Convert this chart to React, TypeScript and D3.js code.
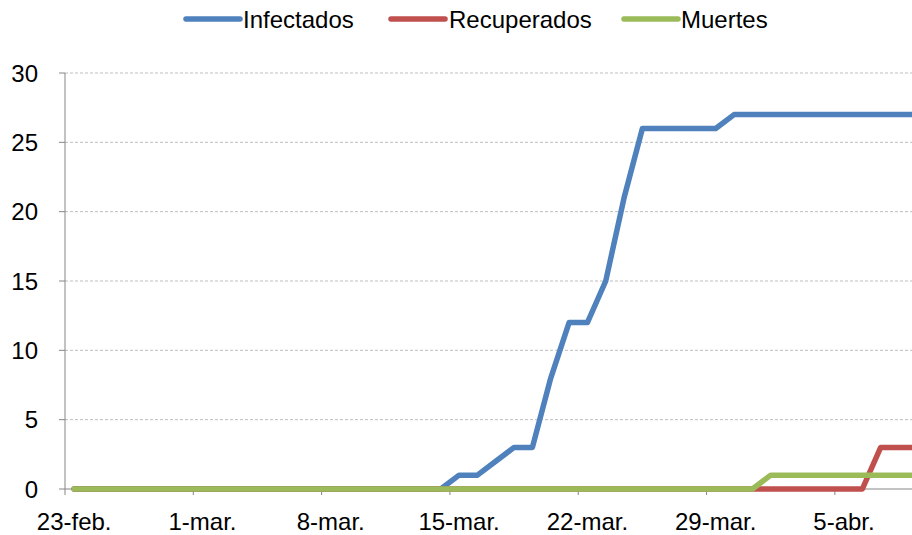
import React from 'react';
import * as d3 from 'd3';

// one value per day, starting 23-feb.
const infectados = [
  0, 0, 0, 0, 0, 0, 0, 0, 0, 0, 0, 0, 0, 0, 0, 0, 0, 0, 0, 0, 0,
  1, 1, 2, 3, 3, 8, 12, 12, 15, 21, 26, 26, 26, 26, 26,
  27, 27, 27, 27, 27, 27, 27, 27, 27, 27, 27,
];
const recuperados = [
  0, 0, 0, 0, 0, 0, 0, 0, 0, 0, 0, 0, 0, 0, 0, 0, 0, 0, 0, 0, 0, 0,
  0, 0, 0, 0, 0, 0, 0, 0, 0, 0, 0, 0, 0, 0, 0, 0, 0, 0, 0, 0, 0, 0,
  3, 3, 3,
];
const muertes = [
  0, 0, 0, 0, 0, 0, 0, 0, 0, 0, 0, 0, 0, 0, 0, 0, 0, 0, 0, 0, 0, 0,
  0, 0, 0, 0, 0, 0, 0, 0, 0, 0, 0, 0, 0, 0, 0, 0,
  1, 1, 1, 1, 1, 1, 1, 1, 1,
];
const tickLabels = ['23-feb.', '1-mar.', '8-mar.', '15-mar.', '22-mar.', '29-mar.', '5-abr.'];
const yTicks = [0, 5, 10, 15, 20, 25, 30];

const series = [
  { name: 'Infectados', values: infectados, color: '#4F81BD' },
  { name: 'Recuperados', values: recuperados, color: '#C0504D' },
  { name: 'Muertes', values: muertes, color: '#9BBB59' },
];

const FONT = '"Liberation Sans Narrow", "Liberation Sans", sans-serif';

function App() {
  const width = 912;
  const height = 535;
  const left = 65;
  const top = 73;
  const bottom = 489;
  const nDays = 47;
  const dayW = 18.33;

  const x = d3.scaleLinear().domain([0, nDays]).range([left, left + nDays * dayW]);
  const y = d3.scaleLinear().domain([0, 30]).range([bottom, top]);

  const line = d3
    .line<number>()
    .x((_, i) => x(i + 0.5))
    .y((d) => y(d));

  const legendItems = [
    { x: 186, tx: 243 },
    { x: 391, tx: 449 },
    { x: 624, tx: 681 },
  ];

  return (
    <svg
      width={width}
      height={height}
      style={{ position: 'absolute', left: 0, top: 0, background: '#fff' }}
      fontFamily={FONT}
    >
      {/* gridlines */}
      {yTicks.slice(1).map((t) => (
        <line
          key={t}
          x1={left}
          x2={width}
          y1={y(t)}
          y2={y(t)}
          stroke="#BEBEBE"
          strokeWidth={1}
          strokeDasharray="3,2"
        />
      ))}

      {/* y axis */}
      <line x1={left} x2={left} y1={top} y2={bottom} stroke="#868686" />
      {yTicks.map((t) => (
        <g key={t}>
          <line x1={left - 6} x2={left} y1={y(t)} y2={y(t)} stroke="#868686" />
          <text x={38} y={y(t)} dy="0.36em" textAnchor="end" fontSize={24} fill="#000">
            {t}
          </text>
        </g>
      ))}

      {/* x axis */}
      <line x1={left} x2={width} y1={bottom} y2={bottom} stroke="#868686" />
      {tickLabels.map((lab, k) => (
        <g key={lab}>
          <line
            x1={x(k * 7)}
            x2={x(k * 7)}
            y1={bottom}
            y2={bottom + 6}
            stroke="#868686"
          />
          <text x={x(k * 7 + 0.5)} y={530} textAnchor="middle" fontSize={24} fill="#000">
            {lab}
          </text>
        </g>
      ))}

      {/* lines */}
      {series.map((s) => (
        <path
          key={s.name}
          d={line(s.values) || ''}
          fill="none"
          stroke={s.color}
          strokeWidth={5.5}
          strokeLinejoin="round"
          strokeLinecap="round"
        />
      ))}

      {/* legend */}
      {series.map((s, i) => (
        <g key={s.name}>
          <line
            x1={legendItems[i].x}
            x2={legendItems[i].x + 54}
            y1={19}
            y2={19}
            stroke={s.color}
            strokeWidth={5.5}
            strokeLinecap="round"
          />
          <text x={legendItems[i].tx} y={28} fontSize={24} fill="#000">
            {s.name}
          </text>
        </g>
      ))}
    </svg>
  );
}

export default App;
